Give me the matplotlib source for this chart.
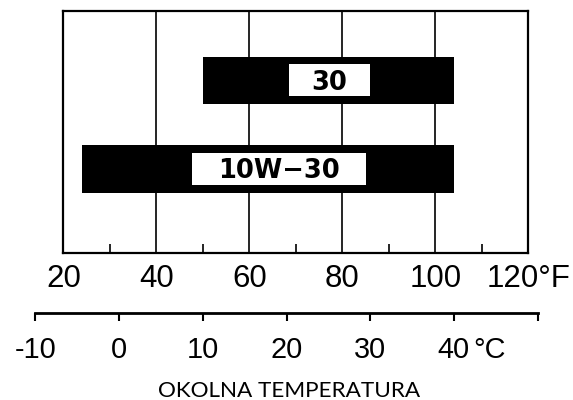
import numpy as np
import matplotlib
matplotlib.use("Agg")
import matplotlib.pyplot as plt

# zakresy temperatur (°F) dla poszczególnych olejów
grades = ["30", "10W\u221230"]
low_f = [50, 24]
high_f = [104, 104]
# białe pola z nazwą oleju (°F)
box_low_f = [68.5, 47.6]
box_high_f = [86, 85]

f_ticks = [20, 40, 60, 80, 100, 120]
f_labels = ["20", "40", "60", "80", "100", "120°F"]
f_minor = [30, 50, 70, 90, 110]
c_ticks = [-10, 0, 10, 20, 30, 40, 50]
c_labels = ["-10", "0", "10", "20", "30", "40", ""]
title = "OKOLNA TEMPERATURA"


def c_to_f(c):
    return c * 9 / 5 + 32


def main():
    plt.rcParams["font.family"] = ["Liberation Sans", "DejaVu Sans"]
    fig = plt.figure(figsize=(5.73, 4.0), dpi=100)

    # skala Fahrenheita + paski
    ax = fig.add_axes([0.1105, 0.3668, 0.8115, 0.6058])
    y = np.arange(len(grades))[::-1]
    lo = np.array(low_f)
    hi = np.array(high_f)
    ax.barh(y, hi - lo, left=lo, height=0.536, color="black", zorder=2)
    blo = np.array(box_low_f)
    bhi = np.array(box_high_f)
    ax.barh(y, bhi - blo, left=blo, height=0.358, color="white", zorder=3)
    for yi, name, a, b in zip(y, grades, blo, bhi):
        ax.annotate(name, xy=((a + b) / 2, yi), xytext=(0, -6.7),
                    textcoords="offset points", ha="center", va="baseline",
                    fontsize=18.5, fontweight="bold", family="DejaVu Sans",
                    zorder=4)

    ax.set_xlim(f_ticks[0], f_ticks[-1])
    ax.set_ylim(-0.953, 1.782)
    ax.set_xticks(f_ticks, f_labels)
    ax.set_xticks(f_minor, minor=True)
    ax.set_yticks([])
    ax.grid(axis="x", which="major", color="black", lw=1.2)
    ax.set_axisbelow(True)
    ax.tick_params(axis="x", which="major", length=0, pad=8, labelsize=22.5)
    ax.tick_params(axis="x", which="minor", direction="in", length=6.5,
                   width=1.2, color="black")
    for s in ax.spines.values():
        s.set_linewidth(1.6)

    # skala Celsjusza pod spodem
    pos = ax.get_position()
    scale = pos.width / (f_ticks[-1] - f_ticks[0])
    c_left = pos.x0 + (c_to_f(c_ticks[0]) - f_ticks[0]) * scale
    c_width = (c_to_f(c_ticks[-1]) - c_to_f(c_ticks[0])) * scale
    cax = fig.add_axes([c_left, 0.2167, c_width, 0.01])
    cax.patch.set_visible(False)
    for side in ["top", "left", "right"]:
        cax.spines[side].set_visible(False)
    cax.spines["bottom"].set_linewidth(2)
    cax.set_xlim(c_ticks[0], c_ticks[-1])
    cax.set_yticks([])
    cax.set_xticks(c_ticks, c_labels)
    cax.tick_params(axis="x", direction="out", length=6, width=1.5, pad=10,
                    labelsize=20.8)
    cax.annotate("°C", xy=(c_ticks[-2], 0), xycoords=("data", "axes fraction"),
                 xytext=(13.7, -16), textcoords="offset points",
                 ha="left", va="top", fontsize=20.8)

    fig.text(0.505, 0.008, title, ha="center", va="baseline", fontsize=16.2,
             family="Lato")

    fig.savefig("out.png", dpi=100)


if __name__ == "__main__":
    main()
